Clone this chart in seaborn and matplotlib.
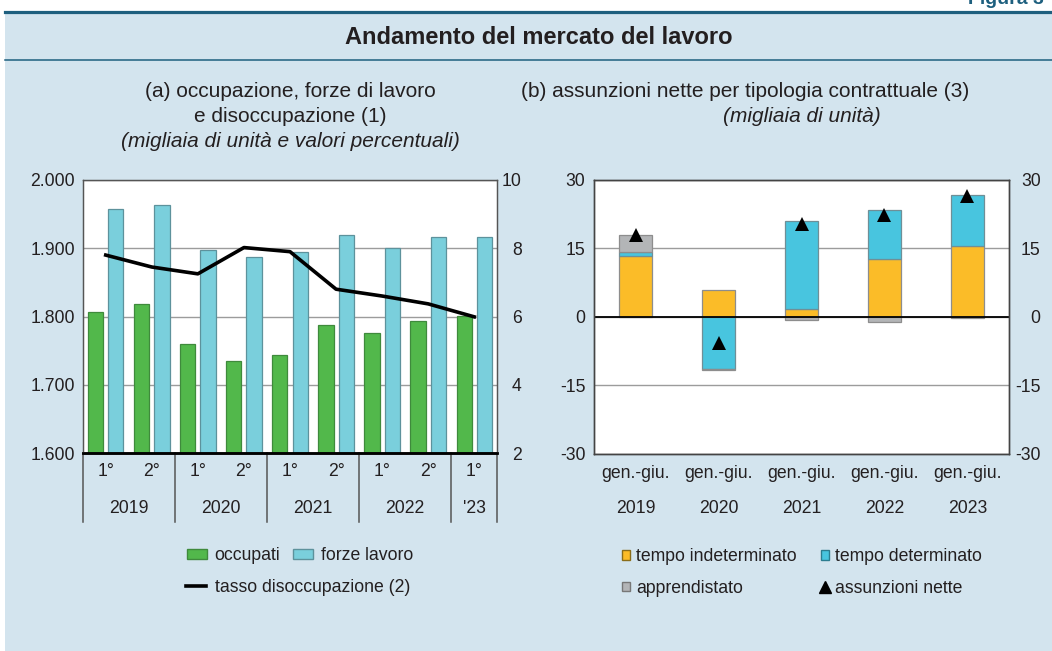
import numpy as np
import pandas as pd
import seaborn as sns
import matplotlib
matplotlib.use("Agg")
from matplotlib import pyplot as plt
from matplotlib.patches import Rectangle, Patch
from matplotlib.lines import Line2D
from matplotlib.transforms import blended_transform_factory

plt.rcParams['font.family'] = ['Liberation Sans', 'DejaVu Sans']

# ---- data, panel (a) ----
periods_a = ['2019-1', '2019-2', '2020-1', '2020-2', '2021-1', '2021-2', '2022-1', '2022-2', '2023-1']
quarters_a = ['1°', '2°', '1°', '2°', '1°', '2°', '1°', '2°', '1°']
years_a = ['2019', '2020', '2021', '2022', "'23"]
year_counts_a = [2, 2, 2, 2, 1]
occupati = [1806, 1818, 1760, 1735, 1744, 1788, 1776, 1794, 1801]
forze_lavoro = [1958, 1964, 1898, 1887, 1894, 1919, 1901, 1916, 1916]
tasso_disocc = [7.8, 7.45, 7.25, 8.02, 7.9, 6.8, 6.6, 6.37, 5.99]

# ---- data, panel (b) ----
years_b = ['2019', '2020', '2021', '2022', '2023']
periods_b = ['gen.-giu.'] * 5
tempo_indet = [13.3, 5.8, 1.75, 12.7, 15.5]
tempo_det = [0.9, -11.4, 19.1, 10.7, 11.15]
apprendistato = [3.7, -0.15, -0.65, -1.15, -0.3]
assunzioni_nette = [17.9, -5.8, 20.2, 22.2, 26.3]

W, H = 1052, 651
TXT = '#231f20'
BG = '#d3e4ee'
DARKBLUE = '#1d5f7e'
GRID = '#9c9c9c'
FS = 12.7

fig = plt.figure(figsize=(W / 100, H / 100), dpi=100)
fig.patch.set_facecolor('white')

# background panel and rules
fig.add_artist(Rectangle((5 / W, 0), 1 - 5 / W, 1 - 12 / H, transform=fig.transFigure,
                         facecolor=BG, edgecolor='none', zorder=-10))
fig.add_artist(Line2D([5 / W, 1], [1 - 12 / H] * 2, color=DARKBLUE, lw=2.3, transform=fig.transFigure))
fig.add_artist(Line2D([5 / W, 1], [1 - 59.5 / H] * 2, color=DARKBLUE, lw=1.1, transform=fig.transFigure))

fig.text(968 / W, 1 - 4 / H, 'Figura 3', ha='left', va='baseline', fontsize=14,
         weight='bold', color=DARKBLUE)
fig.text(539 / W, 1 - 37 / H, 'Andamento del mercato del lavoro', ha='center', va='center',
         fontsize=17, weight='bold', color=TXT)

fig.text(290 / W, 1 - 91.7 / H, '(a) occupazione, forze di lavoro', ha='center', va='center', fontsize=15, color=TXT)
fig.text(290 / W, 1 - 116.7 / H, 'e disoccupazione (1)', ha='center', va='center', fontsize=15, color=TXT)
fig.text(290 / W, 1 - 141.7 / H, '(migliaia di unità e valori percentuali)', ha='center', va='center',
         fontsize=15, style='italic', color=TXT)
fig.text(745 / W, 1 - 91.7 / H, '(b) assunzioni nette per tipologia contrattuale (3)', ha='center', va='center',
         fontsize=15, color=TXT)
fig.text(801.5 / W, 1 - 116.7 / H, '(migliaia di unità)', ha='center', va='center', fontsize=15,
         style='italic', color=TXT)

# ================= panel (a) =================
ax = fig.add_axes([82.7 / W, 1 - 453 / H, 414.6 / W, 273 / H])
df_a = pd.DataFrame({
    'periodo': periods_a * 2,
    'serie': ['occupati'] * len(periods_a) + ['forze lavoro'] * len(periods_a),
    'valore': occupati + forze_lavoro,
})
col_occ, col_fl = '#52b84b', '#7acfdc'
sns.barplot(data=df_a, x='periodo', y='valore', hue='serie', palette=[col_occ, col_fl],
            width=0.88, gap=0.25, saturation=1, errorbar=None, legend=False, ax=ax)
for cont, ec in zip(ax.containers, ['#3f8a3c', '#5d929c']):
    for bar in cont:
        bar.set_edgecolor(ec)
        bar.set_linewidth(0.9)

ax.set_ylim(1600, 2000)
yt = [1600, 1700, 1800, 1900, 2000]
ax.set_yticks(yt)
ax.set_yticklabels([f'{v:,}'.replace(',', '.') for v in yt])
ax.set_axisbelow(True)
ax.yaxis.grid(True, color=GRID, lw=1)
ax.set_facecolor('white')
ax.set_xlabel('')
ax.set_ylabel('')

ax2 = ax.twinx()
sns.pointplot(x=periods_a, y=tasso_disocc, color='black', marker='', linewidth=2.6,
              errorbar=None, ax=ax2)
ax2.set_ylim(2, 10)
ax2.set_yticks([2, 4, 6, 8, 10])
ax2.set_yticklabels(['2', '4', '6', '8', '10'], ha='right')
ax2.tick_params(axis='y', length=0, pad=17.5, labelsize=FS, labelcolor=TXT)
ax2.set_xlabel('')
ax2.set_ylabel('')

ax.set_xlim(-0.5, len(periods_a) - 0.5)
ax.set_xticks(range(len(periods_a)))
ax.set_xticklabels(quarters_a)
ax.tick_params(axis='x', length=0, pad=7, labelsize=FS, labelcolor=TXT)
ax.tick_params(axis='y', length=0, pad=5.5, labelsize=FS, labelcolor=TXT)

for a in (ax, ax2):
    for s in ['top', 'left', 'right']:
        a.spines[s].set_color('#555555')
        a.spines[s].set_linewidth(0.9)
    a.spines['bottom'].set_color('black')
    a.spines['bottom'].set_linewidth(1.8)

trans_a = blended_transform_factory(ax.transData, ax.transAxes)
edges = np.concatenate([[0], np.cumsum(year_counts_a)]) - 0.5
for e in edges:
    ax.plot([e, e], [0, -0.252], transform=trans_a, color='#555555', lw=1.1, clip_on=False)
for lbl, lo, hi in zip(years_a, edges[:-1], edges[1:]):
    ax.text((lo + hi) / 2, -0.2015, lbl, transform=trans_a, ha='center', va='center',
            fontsize=FS, color=TXT)

# ================= panel (b) =================
bx = fig.add_axes([594.3 / W, 1 - 454 / H, 414.4 / W, 274.5 / H])
pos_base = np.zeros(len(years_b))
neg_base = np.zeros(len(years_b))
for vals, col, ec in [(tempo_indet, '#fbbc28', '#8d8d8d'),
                      (tempo_det, '#48c5df', '#6f8f97'),
                      (apprendistato, '#b3b5b7', '#8d8d8d')]:
    v = np.array(vals)
    bottom = np.where(v >= 0, pos_base, neg_base)
    sns.barplot(x=years_b, y=v, bottom=bottom, color=col, width=0.4, saturation=1,
                errorbar=None, edgecolor=ec, linewidth=0.9, ax=bx)
    pos_base = pos_base + np.clip(v, 0, None)
    neg_base = neg_base + np.clip(v, None, 0)

sns.pointplot(x=years_b, y=assunzioni_nette, color='black', marker='^', linestyle='none',
              markersize=10.5, markeredgewidth=0, errorbar=None, ax=bx)

bx.set_ylim(-30, 30)
bx.set_yticks([-30, -15, 0, 15, 30])
bx.set_yticklabels(['-30', '-15', '0', '15', '30'])
bx.set_axisbelow(True)
bx.yaxis.grid(True, color=GRID, lw=1)
bx.axhline(0, color='black', lw=1.3, zorder=2.5)
bx.set_facecolor('white')
bx.set_xlim(-0.5, len(years_b) - 0.5)
bx.set_xticks(range(len(years_b)))
bx.set_xticklabels(periods_b)
bx.tick_params(axis='x', length=0, pad=8, labelsize=FS, labelcolor=TXT)
bx.tick_params(axis='y', length=0, pad=6.5, labelsize=FS, labelcolor=TXT)
bx.set_xlabel('')
bx.set_ylabel('')

bxr = bx.twinx()
bxr.set_ylim(-30, 30)
bxr.set_yticks([-30, -15, 0, 15, 30])
bxr.set_yticklabels(['-30', '-15', '0', '15', '30'], ha='right')
bxr.tick_params(axis='y', length=0, pad=23, labelsize=FS, labelcolor=TXT)

for a in (bx, bxr):
    for s in a.spines.values():
        s.set_color('#444444')
        s.set_linewidth(1.0)

trans_b = blended_transform_factory(bx.transData, bx.transAxes)
for i, lbl in enumerate(years_b):
    bx.text(i, -0.197, lbl, transform=trans_b, ha='center', va='center', fontsize=FS, color=TXT)

# ================= legends =================
leg1 = fig.legend(handles=[Patch(facecolor=col_occ, edgecolor='#3f8a3c'),
                           Patch(facecolor=col_fl, edgecolor='#5d929c')],
                  labels=['occupati', 'forze lavoro'], ncol=2, loc='center left',
                  bbox_to_anchor=(186.7 / W, 1 - 556 / H), frameon=False, borderpad=0,
                  borderaxespad=0, handlelength=1.15, handleheight=0.5, handletextpad=0.43,
                  columnspacing=0.7, fontsize=FS, labelcolor=TXT)
leg2 = fig.legend(handles=[Line2D([], [], color='black', lw=2.6)],
                  labels=['tasso disoccupazione (2)'], loc='center left',
                  bbox_to_anchor=(186 / W, 1 - 588 / H), frameon=False, borderpad=0,
                  borderaxespad=0, handlelength=1.15, handletextpad=0.5, fontsize=FS, labelcolor=TXT)
leg3 = fig.legend(handles=[Patch(facecolor='#fbbc28', edgecolor='#8a6d1a'),
                           Patch(facecolor='#b3b5b7', edgecolor='#777777'),
                           Patch(facecolor='#48c5df', edgecolor='#2c7d90'),
                           Line2D([], [], color='black', marker='^', linestyle='none', markersize=8)],
                  labels=['tempo indeterminato', 'apprendistato', 'tempo determinato', 'assunzioni nette'],
                  ncol=2, loc='center left', bbox_to_anchor=(621.7 / W, 1 - 572.5 / H), frameon=False,
                  borderpad=0, borderaxespad=0, handlelength=0.45, handleheight=0.45,
                  handletextpad=0.36, columnspacing=1.36, labelspacing=0.82, fontsize=FS, labelcolor=TXT)

fig.savefig('out.png', dpi=100)
